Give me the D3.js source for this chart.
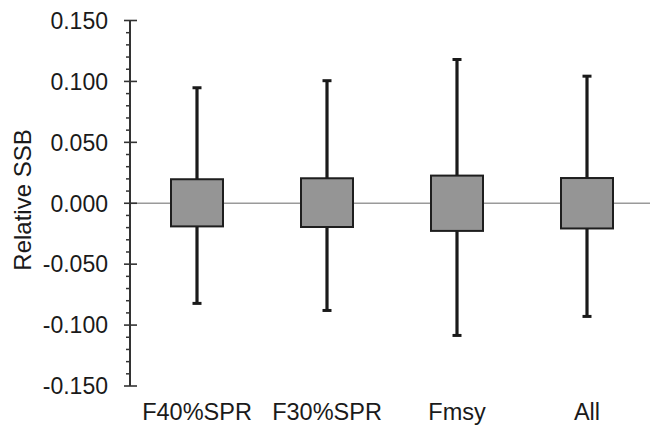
<!DOCTYPE html>
<html>
<head>
<meta charset="utf-8">
<script src="https://cdn.jsdelivr.net/npm/d3@7"></script>
<style>
  html, body { margin: 0; padding: 0; background: #fff; }
  svg { display: block; font-family: Arial, "Liberation Sans", Helvetica, sans-serif; }
</style>
</head>
<body>
<svg id="chart" width="650" height="425"></svg>
<script>
// Relative SSB by reference point: interquartile box and whisker range
const categories = ["F40%SPR", "F30%SPR", "Fmsy", "All"];
const boxLow     = [-0.019, -0.0195, -0.0227, -0.0207];
const boxHigh    = [0.0197, 0.0205, 0.0227, 0.0207];
const whiskerLow = [-0.0822, -0.088, -0.1085, -0.0929];
const whiskerHigh= [0.0948, 0.1006, 0.118, 0.1043];
const majorTicks = [-0.15, -0.1, -0.05, 0, 0.05, 0.1, 0.15];
const yLabel = "Relative SSB";

const svg = d3.select("#chart");
const axisX = 130;

const y = d3.scaleLinear().domain([-0.15, 0.15]).range([386, 20.5]);
const x = d3.scaleBand().domain(categories).range([132, 652]).paddingInner(0).paddingOuter(0);
const boxW = x.bandwidth() * 0.4;
const capW = 9;

// zero reference line
svg.append("line")
  .attr("x1", axisX).attr("x2", 650)
  .attr("y1", y(0)).attr("y2", y(0))
  .attr("stroke", "#9a9a9a").attr("stroke-width", 1.6);

// y axis with major and minor ticks
const minor = d3.range(-15, 16).map(d => d / 100).filter(v => Math.abs(Math.round(v * 100)) % 5 !== 0);
const ax = svg.append("g");
ax.append("line")
  .attr("x1", axisX).attr("x2", axisX)
  .attr("y1", y(0.15)).attr("y2", y(-0.15))
  .attr("stroke", "#333").attr("stroke-width", 2);
ax.selectAll("line.minor").data(minor).join("line")
  .attr("class", "minor")
  .attr("x1", axisX - 4).attr("x2", axisX)
  .attr("y1", d => y(d)).attr("y2", d => y(d))
  .attr("stroke", "#333").attr("stroke-width", 1.5);
ax.selectAll("line.major").data(majorTicks).join("line")
  .attr("class", "major")
  .attr("x1", axisX - 6).attr("x2", axisX + 7)
  .attr("y1", d => y(d)).attr("y2", d => y(d))
  .attr("stroke", "#333").attr("stroke-width", 1.6);
ax.selectAll("text").data(majorTicks).join("text")
  .attr("x", 108).attr("y", d => y(d)).attr("dy", "0.36em")
  .attr("text-anchor", "end")
  .attr("font-size", 23).attr("fill", "#1a1a1a")
  .text(d => d3.format(".3f")(d).replace("\u2212", "-"));

// y axis title
svg.append("text")
  .attr("transform", `translate(31,200) rotate(-90)`)
  .attr("text-anchor", "middle")
  .attr("font-size", 24).attr("fill", "#1a1a1a")
  .text(yLabel);

// whiskers and boxes
const g = svg.append("g");
categories.forEach((c, i) => {
  const cx = x(c) + x.bandwidth() / 2;
  g.append("line")
    .attr("x1", cx).attr("x2", cx)
    .attr("y1", y(whiskerHigh[i])).attr("y2", y(whiskerLow[i]))
    .attr("stroke", "#1a1a1a").attr("stroke-width", 3.2);
  [whiskerHigh[i], whiskerLow[i]].forEach(v => {
    g.append("line")
      .attr("x1", cx - capW / 2).attr("x2", cx + capW / 2)
      .attr("y1", y(v)).attr("y2", y(v))
      .attr("stroke", "#1a1a1a").attr("stroke-width", 3);
  });
  g.append("rect")
    .attr("x", cx - boxW / 2).attr("width", boxW)
    .attr("y", y(boxHigh[i])).attr("height", y(boxLow[i]) - y(boxHigh[i]))
    .attr("fill", "#959595").attr("stroke", "#1e1e1e").attr("stroke-width", 2);
});

// category labels
svg.selectAll("text.cat").data(categories).join("text")
  .attr("class", "cat")
  .attr("x", d => x(d) + x.bandwidth() / 2).attr("y", 420)
  .attr("text-anchor", "middle")
  .attr("font-size", 23.5).attr("fill", "#1a1a1a")
  .text(d => d);
</script>
</body>
</html>
